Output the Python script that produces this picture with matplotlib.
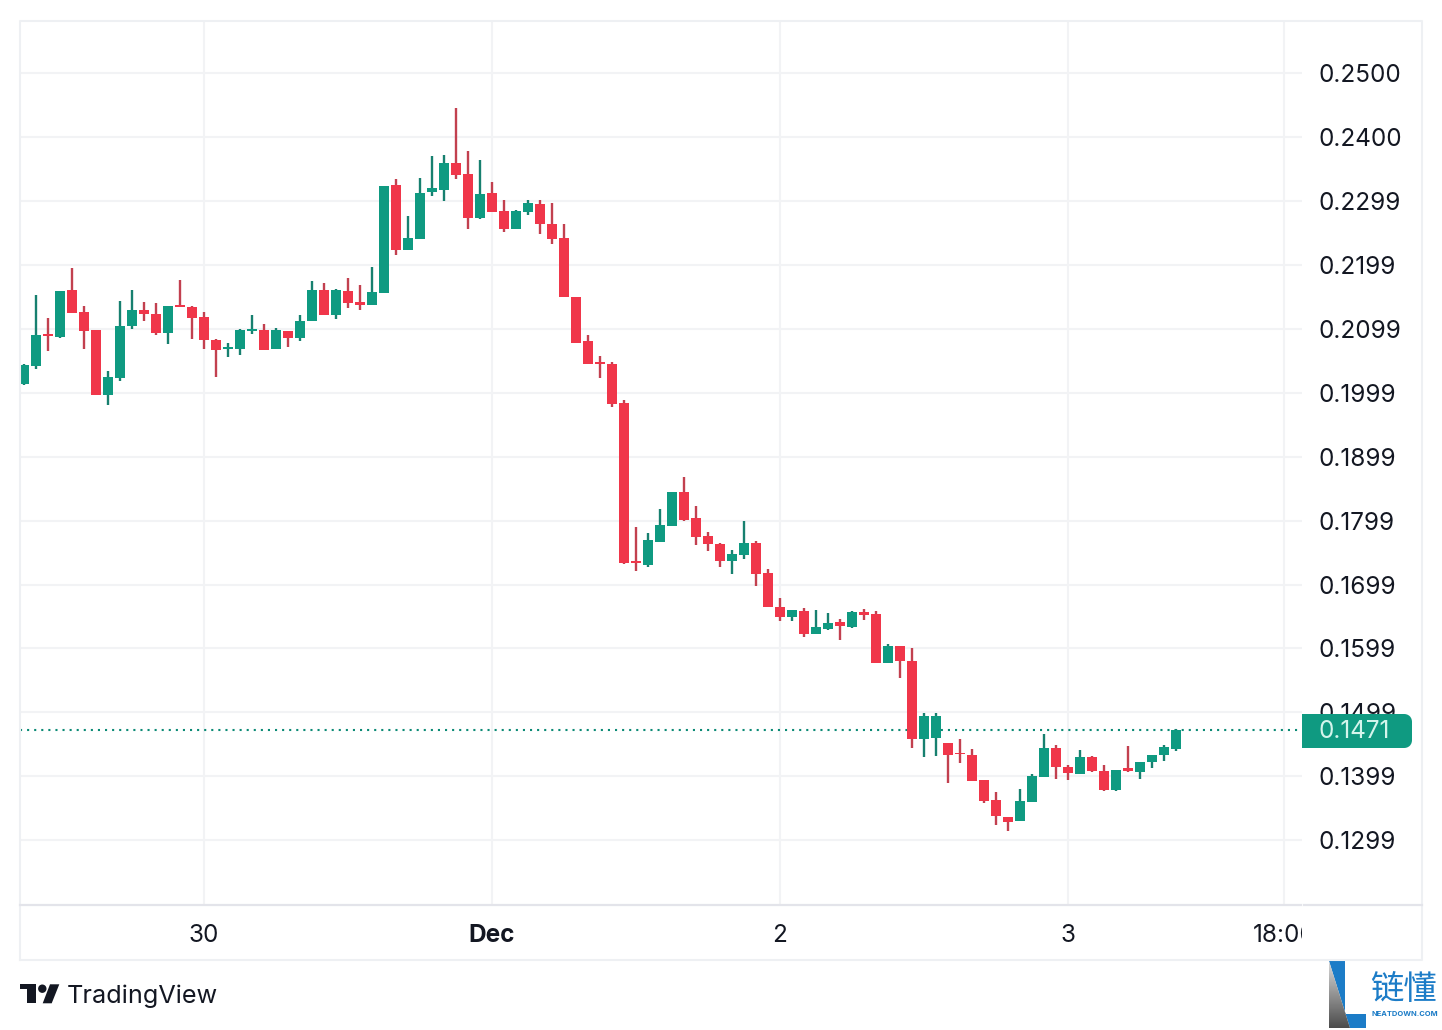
import matplotlib.pyplot as plt
import numpy as np
from matplotlib.patches import Circle, FancyBboxPatch, Polygon, Rectangle
from matplotlib.transforms import Bbox

plt.rcParams['font.family'] = ['Inter', 'DejaVu Sans']

opens = [0.2013, 0.2041, 0.2091, 0.2087, 0.2160, 0.2126, 0.2098, 0.1996, 0.2022, 0.2104,
         0.2129, 0.2123, 0.2093, 0.2136, 0.2133, 0.2118, 0.2082, 0.2068, 0.2068, 0.2096,
         0.2098, 0.2068, 0.2096, 0.2085, 0.2112, 0.2160, 0.2121, 0.2159, 0.2141, 0.2136,
         0.2155, 0.2325, 0.2223, 0.2240, 0.2313, 0.2316, 0.2359, 0.2342, 0.2273, 0.2312,
         0.2284, 0.2256, 0.2282, 0.2295, 0.2264, 0.2242, 0.2149, 0.2080, 0.2047, 0.2044,
         0.1983, 0.1736, 0.1730, 0.1766, 0.1791, 0.1844, 0.1803, 0.1775, 0.1762, 0.1736,
         0.1745, 0.1764, 0.1717, 0.1664, 0.1648, 0.1658, 0.1622, 0.1630, 0.1640, 0.1633,
         0.1656, 0.1653, 0.1576, 0.1603, 0.1579, 0.1457, 0.1459, 0.1451, 0.1435, 0.1432,
         0.1393, 0.1362, 0.1335, 0.1329, 0.1358, 0.1397, 0.1443, 0.1413, 0.1402, 0.1429,
         0.1407, 0.1377, 0.1412, 0.1405, 0.1421, 0.1432, 0.1441]
highs = [0.2044, 0.2152, 0.2116, 0.2159, 0.2195, 0.2135, 0.2098, 0.2033, 0.2143, 0.2160,
         0.2141, 0.2140, 0.2135, 0.2176, 0.2135, 0.2126, 0.2084, 0.2077, 0.2099, 0.2121,
         0.2107, 0.2101, 0.2096, 0.2121, 0.2174, 0.2171, 0.2162, 0.2179, 0.2168, 0.2196,
         0.2323, 0.2334, 0.2276, 0.2336, 0.2370, 0.2372, 0.2445, 0.2378, 0.2364, 0.2329,
         0.2301, 0.2285, 0.2301, 0.2301, 0.2296, 0.2263, 0.2149, 0.2090, 0.2057, 0.2047,
         0.1988, 0.1789, 0.1780, 0.1817, 0.1844, 0.1867, 0.1822, 0.1781, 0.1764, 0.1753,
         0.1799, 0.1767, 0.1723, 0.1678, 0.1659, 0.1662, 0.1659, 0.1655, 0.1645, 0.1658,
         0.1661, 0.1658, 0.1606, 0.1603, 0.1600, 0.1498, 0.1498, 0.1451, 0.1457, 0.1441,
         0.1393, 0.1374, 0.1335, 0.1379, 0.1402, 0.1465, 0.1448, 0.1416, 0.1440, 0.1430,
         0.1416, 0.1408, 0.1446, 0.1421, 0.1432, 0.1448, 0.1473]
lows = [0.2011, 0.2036, 0.2065, 0.2085, 0.2124, 0.2068, 0.1996, 0.1980, 0.2018, 0.2099,
        0.2112, 0.2090, 0.2076, 0.2133, 0.2084, 0.2068, 0.2024, 0.2055, 0.2059, 0.2091,
        0.2066, 0.2068, 0.2071, 0.2080, 0.2112, 0.2121, 0.2115, 0.2132, 0.2129, 0.2136,
        0.2155, 0.2215, 0.2223, 0.2240, 0.2307, 0.2300, 0.2334, 0.2256, 0.2271, 0.2282,
        0.2251, 0.2256, 0.2277, 0.2248, 0.2233, 0.2149, 0.2077, 0.2044, 0.2022, 0.1977,
        0.1731, 0.1720, 0.1727, 0.1766, 0.1791, 0.1799, 0.1761, 0.1751, 0.1727, 0.1715,
        0.1739, 0.1697, 0.1664, 0.1642, 0.1642, 0.1617, 0.1622, 0.1628, 0.1612, 0.1631,
        0.1644, 0.1576, 0.1576, 0.1553, 0.1443, 0.1429, 0.1430, 0.1388, 0.1420, 0.1391,
        0.1357, 0.1323, 0.1313, 0.1329, 0.1358, 0.1397, 0.1394, 0.1393, 0.1402, 0.1405,
        0.1375, 0.1375, 0.1405, 0.1394, 0.1412, 0.1423, 0.1438]
closes = [0.2043, 0.2090, 0.2088, 0.2159, 0.2124, 0.2096, 0.1996, 0.2024, 0.2104, 0.2129,
          0.2123, 0.2093, 0.2135, 0.2133, 0.2116, 0.2082, 0.2066, 0.2071, 0.2098, 0.2099,
          0.2066, 0.2098, 0.2085, 0.2112, 0.2160, 0.2121, 0.2160, 0.2140, 0.2136, 0.2157,
          0.2323, 0.2223, 0.2242, 0.2312, 0.2320, 0.2359, 0.2340, 0.2273, 0.2310, 0.2282,
          0.2256, 0.2284, 0.2296, 0.2263, 0.2240, 0.2149, 0.2077, 0.2044, 0.2044, 0.1982,
          0.1733, 0.1733, 0.1769, 0.1792, 0.1844, 0.1800, 0.1773, 0.1762, 0.1736, 0.1747,
          0.1764, 0.1715, 0.1664, 0.1648, 0.1659, 0.1622, 0.1633, 0.1639, 0.1634, 0.1656,
          0.1651, 0.1576, 0.1603, 0.1579, 0.1457, 0.1493, 0.1493, 0.1432, 0.1433, 0.1391,
          0.1360, 0.1337, 0.1327, 0.1360, 0.1399, 0.1443, 0.1413, 0.1404, 0.1429, 0.1407,
          0.1377, 0.1408, 0.1407, 0.1421, 0.1432, 0.1445, 0.1471]

price_ticks = [0.2500, 0.2400, 0.2299, 0.2199, 0.2099, 0.1999, 0.1899,
               0.1799, 0.1699, 0.1599, 0.1499, 0.1399, 0.1299]
time_ticks = [15, 39, 63, 87, 105]
time_labels = ['30', 'Dec', '2', '3', '18:00']
last_price = 0.1471

GREEN = '#0f9a81'
RED = '#f0364a'
GRID = '#f2f3f5'
BORDER = '#eef0f3'
TEXT = '#131722'

fig = plt.figure(figsize=(14.42, 10.30), dpi=100, facecolor='white')
W, H = 1442, 1030
ax = fig.add_axes([20 / W, 1 - 905 / H, (1302 - 20) / W, (905 - 21) / H])
ax.set_xlim(-0.333, 106.5)
ax.set_ylim(0.11972, 0.25814)
for s in ax.spines.values():
    s.set_visible(False)

# candles
x = np.arange(len(opens))
o = np.array(opens)
c = np.array(closes)
up = c >= o
body_lo = np.minimum(o, c)
body_hi = np.maximum(o, c)
ax.vlines(x[up], np.array(lows)[up], np.array(highs)[up], color='#17806f', lw=1.7, zorder=3)
ax.vlines(x[~up], np.array(lows)[~up], np.array(highs)[~up], color='#c2404f', lw=1.7, zorder=3)
ax.bar(x[up], (body_hi - body_lo)[up], bottom=body_lo[up], width=10 / 12, color=GREEN, zorder=4)
ax.bar(x[~up], (body_hi - body_lo)[~up], bottom=body_lo[~up], width=10 / 12, color=RED, zorder=4)

ax.axhline(last_price, color='#0b8a75', lw=1.5, linestyle=(0, (1, 2.4)), zorder=2)

ax.grid(True, color=GRID, lw=1.5, zorder=0)
ax.set_axisbelow(True)
ax.yaxis.tick_right()
ax.set_yticks(price_ticks)
ax.set_yticklabels([f'{p:.4f}' for p in price_ticks])
ax.set_xticks(time_ticks)
ax.set_xticklabels(time_labels)
ax.tick_params(axis='y', length=0, pad=12.2, labelsize=17.5, labelcolor=TEXT)
ax.tick_params(axis='x', length=0, pad=14, labelsize=17.5, labelcolor=TEXT)
for lab in ax.get_yticklabels():
    lab.set_va('center_baseline')
for lab in ax.get_xticklabels():
    if lab.get_text() == 'Dec':
        lab.set_fontweight('bold')
    if lab.get_text() == '18:00':
        lab.set_clip_box(Bbox.from_extents(0, 0, 1302, H))
        lab.set_clip_on(True)

# pixel overlay for frame, price badge and logos
ov = fig.add_axes([0, 0, 1, 1], zorder=5)
ov.patch.set_alpha(0)
ov.axis('off')

ov.plot([20, 20, 1422, 1422, 20], [960, 21, 21, 960, 960], color=BORDER, lw=1.5)
ov.plot([20, 1301], [905, 905], color='#e3e4ea', lw=1.6)
ov.plot([1304, 1422], [905, 905], color='#e3e4ea', lw=1.6)

# price badge
ov.add_patch(FancyBboxPatch((1306, 718), 102, 26, boxstyle='round,pad=0,rounding_size=4',
                            fc=GREEN, ec=GREEN, lw=8 * 0.72, joinstyle='round'))
ov.add_patch(Rectangle((1302, 714), 20, 34, fc=GREEN, ec='none'))
ov.text(1319, 731.5, f'{last_price:.4f}', color='#d4f5ec', fontsize=17.5, va='center', ha='left')

# TradingView logo
ov.add_patch(Polygon([(20, 984.3), (36, 984.3), (36, 1003.3), (27.3, 1003.3), (27.3, 989.3), (20, 989.3)],
                     fc=TEXT, ec='none'))
ov.add_patch(Circle((42.3, 988.7), 4.2, fc=TEXT, ec='none'))
ov.add_patch(Polygon([(50, 984.3), (59.3, 984.3), (51.7, 1003.3), (42.7, 1003.3)], fc=TEXT, ec='none'))
ov.text(67, 996.5, 'TradingView', color=TEXT, fontsize=18.2, va='center', ha='left')

# watermark
blue = '#1c7cc7'
ov.add_patch(Polygon([(1329, 961), (1345, 961), (1345, 1014), (1366, 1014), (1366, 1028), (1350, 1028)],
                     fc=blue, ec='none'))
grad = ov.imshow(np.linspace(0.85, 0.3, 64)[:, None], extent=(1329, 1350, 1028, 961), cmap='gray',
                 vmin=0, vmax=1, aspect='auto', zorder=1)
clip = Polygon([(1329, 961), (1350, 1028), (1329, 1028)], transform=ov.transData, fc='none', ec='none')
ov.add_patch(clip)
grad.set_clip_path(clip)
ov.text(1403.5, 990, '链懂', color=blue, fontsize=24, fontweight='medium', va='center', ha='center',
        family=['Noto Sans CJK SC', 'DejaVu Sans'])
ov.text(1404.5, 1014, 'NEATDOWN.COM', color=blue, fontsize=5.4, fontweight='bold', va='center', ha='center')

ov.set_xlim(0, W)
ov.set_ylim(H, 0)

fig.savefig('out.png', dpi=100, facecolor='white')
